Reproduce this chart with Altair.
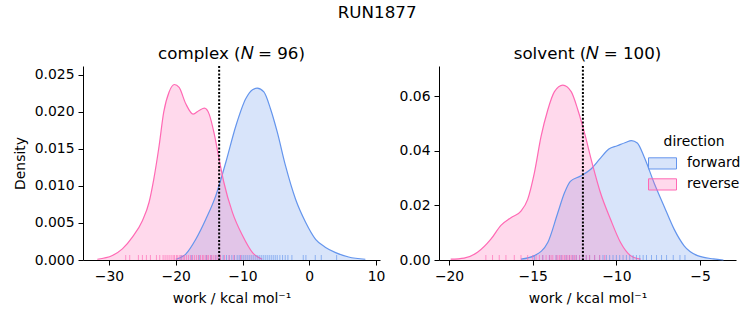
import altair as alt
import pandas as pd

FONT = "DejaVu Sans"
BLUE = "#6495ED"
PINK = "#FF69B4"

# ---- KDE curves (work, density) ----
complex_fwd_x = [-20.0, -18.5, -17.0, -15.5, -14.0, -12.5, -11.0, -9.5, -8.5, -7.8, -6.8, -5.8,
                 -4.8, -3.55, -2.05, -0.55, 0.95, 2.45, 3.95, 5.9, 8.4]
complex_fwd_d = [0.0001, 0.0008, 0.0028, 0.0055, 0.0087, 0.0132, 0.0181, 0.0218, 0.0230, 0.0232,
                 0.0227, 0.0204, 0.0173, 0.0127, 0.0082, 0.0051, 0.0028, 0.0017, 0.0010, 0.0004, 0.0001]
complex_rev_x = [-31.75, -29.5, -28.0, -26.5, -25.0, -24.0, -23.3, -22.5, -21.8, -21.0, -20.2, -19.5,
                 -18.5, -17.4, -16.5, -15.7, -15.0, -14.3, -13.5, -12.8, -11.5, -10.0, -8.5, -7.05]
complex_rev_d = [0.0001, 0.0006, 0.0015, 0.0031, 0.0053, 0.0078, 0.0109, 0.0154, 0.0200, 0.0227,
                 0.0237, 0.0233, 0.0211, 0.0197, 0.0202, 0.0205, 0.0197, 0.0173, 0.0136, 0.0105,
                 0.0064, 0.0033, 0.0010, 0.0001]
solvent_fwd_x = [-15.7, -14.9, -14.1, -13.5, -13.1, -12.75, -12.15, -11.55, -10.95, -10.45, -9.95,
                 -9.45, -9.1, -8.75, -8.35, -7.75, -7.15, -6.55, -5.95, -5.15, -4.2, -3.6]
solvent_fwd_d = [0.0003, 0.0016, 0.0064, 0.0173, 0.0246, 0.0288, 0.0307, 0.0331, 0.0373, 0.0406,
                 0.0418, 0.0430, 0.0437, 0.0428, 0.0379, 0.0283, 0.0197, 0.0113, 0.0052, 0.0016,
                 0.0004, 0.0]
solvent_rev_x = [-19.9, -19.1, -18.3, -17.5, -16.9, -16.3, -15.7, -15.3, -14.9, -14.5, -14.1, -13.7,
                 -13.2, -12.7, -12.3, -11.9, -11.45, -10.95, -10.35, -9.75, -9.15, -8.55]
solvent_rev_d = [0.0003, 0.0007, 0.0028, 0.0076, 0.0127, 0.0155, 0.0179, 0.0222, 0.0319, 0.0452,
                 0.0549, 0.0616, 0.0640, 0.0616, 0.0549, 0.0464, 0.0355, 0.0246, 0.0149, 0.0064,
                 0.0016, 0.0003]

# ---- rug values (individual works, estimated) ----
complex_fwd_rug = [-19.2, -17.6, -16.5, -15.4, -14.7, -14.0, -13.4, -12.9, -12.4, -12.0, -11.6, -11.2,
                   -10.8, -10.5, -10.2, -9.9, -9.6, -9.3, -9.0, -8.7, -8.4, -8.1, -7.8, -7.5, -7.2,
                   -6.9, -6.6, -6.3, -6.0, -5.7, -5.4, -5.1, -4.8, -4.4, -4.0, -3.6, -3.2, -2.6,
                   -0.9, -0.5, 0.9, 1.8, 4.1]
complex_rev_rug = [-27.5, -26.9, -25.6, -25.0, -24.4, -23.8, -22.9, -22.4, -21.9, -21.6, -21.3, -21.0,
                   -20.7, -20.4, -20.2, -19.9, -19.7, -19.4, -19.2, -18.9, -18.7, -18.4, -18.1, -17.8,
                   -17.5, -17.2, -16.9, -16.6, -16.3, -16.0, -15.8, -15.5, -15.3, -15.1, -14.8, -14.6,
                   -14.3, -14.0, -13.7, -13.3, -12.7, -12.0, -11.3, -10.3]
solvent_fwd_rug = [-14.9, -14.4, -14.0, -13.6, -13.3, -13.0, -12.8, -12.6, -12.4, -12.2, -12.0, -11.8,
                   -11.6, -11.3, -11.0, -10.8, -10.6, -10.4, -10.2, -10.0, -9.8, -9.6, -9.4, -9.2,
                   -9.0, -8.8, -8.6, -8.4, -8.2, -7.9, -7.6, -7.3, -7.0, -6.6, -6.2, -5.9]
solvent_rev_rug = [-17.8, -17.4, -17.0, -16.6, -16.1, -15.7, -15.3, -15.0, -14.8, -14.6, -14.4, -14.2,
                   -14.0, -13.9, -13.8, -13.6, -13.5, -13.4, -13.3, -13.2, -13.1, -13.0, -12.9, -12.8,
                   -12.7, -12.6, -12.5, -12.4, -12.2, -12.0, -11.8, -11.6, -11.3, -11.0, -10.7]

complex_marker = -13.5
solvent_marker = -12.0

directions = ["forward", "reverse"]
W, H = 297, 194


def curves_df(fx, fd, rx, rd):
    return pd.concat([
        pd.DataFrame({"work": fx, "density": fd, "direction": "forward"}),
        pd.DataFrame({"work": rx, "density": rd, "direction": "reverse"}),
    ], ignore_index=True)


def rug_df(f, r):
    return pd.concat([
        pd.DataFrame({"work": f, "direction": "forward"}),
        pd.DataFrame({"work": r, "direction": "reverse"}),
    ], ignore_index=True)


def panel(curves, rug, marker, title, xdom, xticks, ydom, yticks, yfmt, ytitle, legend):
    xs = alt.Scale(domain=xdom, nice=False, zero=False)
    ys = alt.Scale(domain=ydom, nice=False)
    fill_scale = alt.Scale(domain=directions, range=["rgba(100,149,237,0.25)", "rgba(255,105,180,0.25)"])
    stroke_scale = alt.Scale(domain=directions, range=[BLUE, PINK])
    xaxis = alt.Axis(values=xticks, format="d", title="work / kcal mol⁻¹", titlePadding=9,
                     labelOverlap=False)
    if ytitle:
        yaxis = alt.Axis(values=yticks, format=yfmt, title=ytitle, labelOverlap=False)
    else:
        yaxis = alt.Axis(values=yticks, format=yfmt, title=None, labelOverlap=False)
    xenc = alt.X("work:Q", scale=xs, axis=xaxis)
    yenc = alt.Y("density:Q", scale=ys, axis=yaxis, stack=None)

    if legend:
        fill_enc = alt.Fill("direction:N", scale=fill_scale, title="direction", legend=legend)
        stroke_enc = alt.Stroke("direction:N", scale=stroke_scale, title="direction", legend=legend)
    else:
        fill_enc = alt.Fill("direction:N", scale=fill_scale, legend=None)
        stroke_enc = alt.Stroke("direction:N", scale=stroke_scale, legend=None)

    base = alt.Chart(curves)
    area = base.mark_area(interpolate="monotone", orient="vertical", opacity=1).encode(
        x=xenc, y=yenc, y2=alt.datum(0), fill=fill_enc,
    )
    line = base.mark_line(interpolate="monotone", strokeWidth=1.2).encode(
        x=xenc, y=yenc, stroke=stroke_enc,
    )
    rugs = alt.Chart(rug).mark_tick(orient="vertical", thickness=1, size=5, opacity=0.65).encode(
        x=xenc,
        y=alt.value(H - 2.5),
        color=alt.Color("direction:N", scale=stroke_scale, legend=None),
    )
    rule = alt.Chart(pd.DataFrame({"work": [marker]})).mark_rule(
        color="black", strokeWidth=2, strokeDash=[2, 1.7]
    ).encode(x=xenc)
    return alt.layer(area, line, rugs, rule).properties(
        width=W, height=H,
        title=alt.TitleParams(title, fontSize=16.7, fontWeight="normal", font=FONT, offset=2),
    ).resolve_scale(color="independent")


legend = alt.Legend(
    orient="none", legendX=209, legendY=69,
    symbolType="M-1,-0.8H3V0.8H-1Z", symbolSize=196, symbolStrokeWidth=1,
    labelOffset=24, rowPadding=4, titlePadding=7, titleAnchor="middle", padding=0,
)

left = panel(curves_df(complex_fwd_x, complex_fwd_d, complex_rev_x, complex_rev_d),
             rug_df(complex_fwd_rug, complex_rev_rug), complex_marker,
             "complex (𝑁 = 96)", [-33.9, 10.6], [-30, -20, -10, 0, 10],
             [0, 0.0262], [0, 0.005, 0.01, 0.015, 0.02, 0.025], ".3f", "Density", None)
right = panel(curves_df(solvent_fwd_x, solvent_fwd_d, solvent_rev_x, solvent_rev_d),
              rug_df(solvent_fwd_rug, solvent_rev_rug), solvent_marker,
              "solvent (𝑁 = 100)", [-20.6, -2.85], [-20, -15, -10, -5],
              [0, 0.071], [0, 0.02, 0.04, 0.06], ".2f", None, legend)

chart = alt.hconcat(left, right, spacing=14).resolve_scale(
    x="independent", y="independent", fill="independent", stroke="independent", color="independent"
).properties(
    title=alt.TitleParams("RUN1877", fontSize=16.7, fontWeight="normal", font=FONT, anchor="middle", offset=25),
    padding={"left": 13, "top": 4, "right": 10, "bottom": 10},
).configure_view(stroke=None).configure_axis(
    grid=False, domainColor="black", tickColor="black", labelColor="black", titleColor="black",
    domainWidth=1, tickWidth=1, tickSize=5, labelPadding=4, labelFont=FONT, titleFont=FONT,
    labelFontSize=13.9, titleFontSize=13.9, titleFontWeight="normal", titlePadding=7,
).configure_legend(
    labelFont=FONT, titleFont=FONT, labelFontSize=13.9, titleFontSize=13.9,
    titleFontWeight="normal", labelColor="black", titleColor="black",
).configure_title(color="black")

chart.save("out.html", embed_options={"renderer": "svg", "actions": False})
